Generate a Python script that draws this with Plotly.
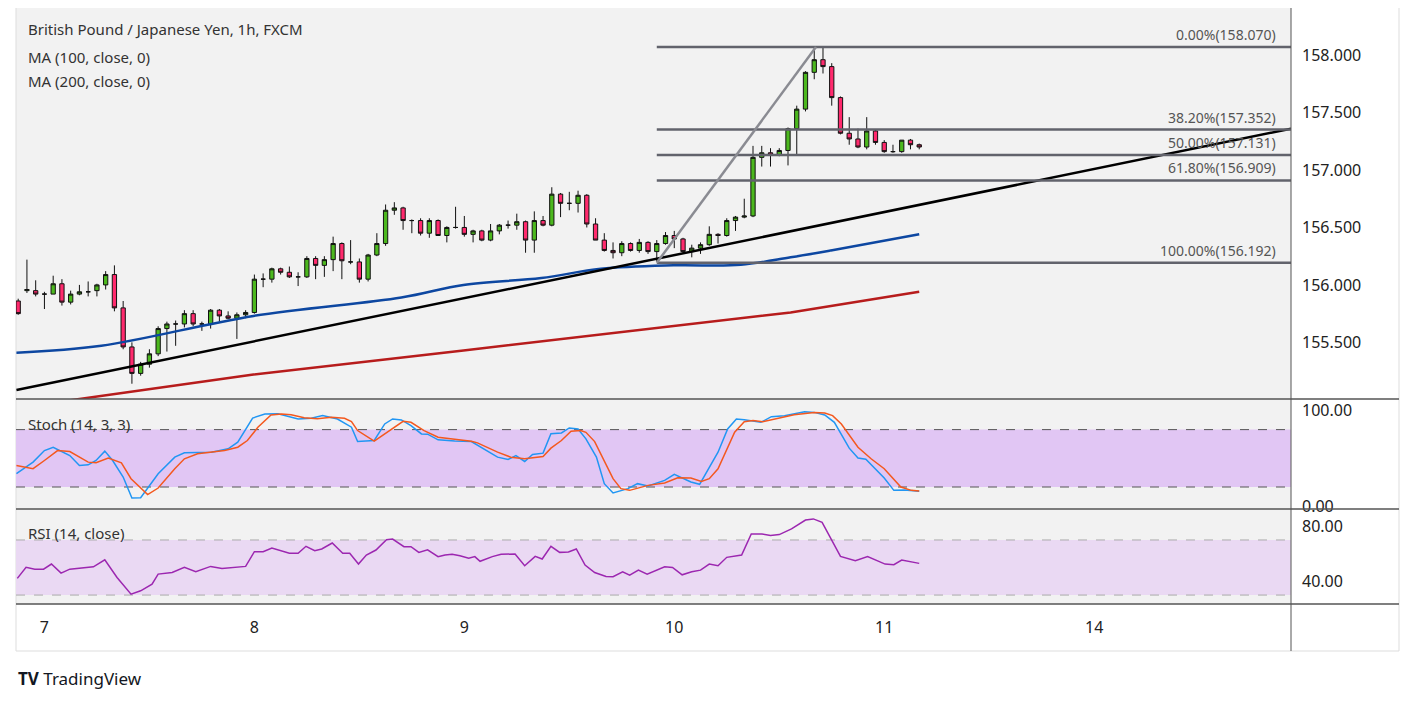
import plotly.graph_objects as GO

# GBP/JPY 1h candles (hour index 0 = first visible bar, day 7 00:00 at index 3)
opens = [155.86, 155.95, 155.95, 155.92, 155.92, 156.01, 155.85, 155.92, 155.94, 155.95,
         156.00, 156.09, 155.80, 155.46, 155.23, 155.31, 155.40, 155.62, 155.66, 155.66,
         155.75, 155.66, 155.66, 155.78, 155.73, 155.71, 155.74, 155.76, 156.05, 156.05,
         156.14, 156.11, 156.07, 156.07, 156.23, 156.17, 156.22,
         156.36, 156.20, 156.20, 156.05, 156.26, 156.36, 156.65, 156.67, 156.56, 156.56,
         156.45, 156.56, 156.43, 156.50, 156.50, 156.44, 156.47, 156.39, 156.47, 156.52,
         156.52, 156.55, 156.39, 156.56, 156.52, 156.79, 156.71, 156.71, 156.78, 156.53,
         156.39, 156.30, 156.28, 156.36,
         156.30, 156.37, 156.29, 156.36, 156.43, 156.40, 156.29, 156.32, 156.35, 156.44,
         156.43, 156.56, 156.59, 156.60, 157.11, 157.15, 157.13, 157.17, 157.36, 157.53,
         157.85, 157.96, 157.90, 157.63, 157.32, 157.27, 157.20, 157.34, 157.24, 157.16,
         157.16, 157.26, 157.22]
highs = [155.88, 156.22, 156.04, 155.94, 156.08, 156.05, 155.95, 156.00, 156.03, 156.01,
         156.12, 156.17, 155.86, 155.50, 155.33, 155.44, 155.64, 155.68, 155.69, 155.78,
         155.78, 155.68, 155.79, 155.79, 155.77, 155.76, 155.78, 156.09, 156.10, 156.15,
         156.15, 156.16, 156.11, 156.25, 156.25, 156.25, 156.42,
         156.37, 156.39, 156.23, 156.27, 156.45, 156.70, 156.72, 156.68, 156.57, 156.58,
         156.58, 156.57, 156.51, 156.68, 156.60, 156.48, 156.48, 156.53, 156.53, 156.56,
         156.62, 156.56, 156.64, 156.60, 156.85, 156.80, 156.81, 156.82, 156.79, 156.58,
         156.45, 156.37, 156.38, 156.37,
         156.40, 156.38, 156.39, 156.46, 156.47, 156.41, 156.35, 156.37, 156.51, 156.45,
         156.58, 156.60, 156.75, 157.21, 157.21, 157.19, 157.19, 157.37, 157.56, 157.86,
         158.07, 158.07, 157.93, 157.64, 157.46, 157.36, 157.46, 157.35, 157.26, 157.22,
         157.26, 157.27, 157.23]
lows = [155.74, 155.93, 155.90, 155.79, 155.92, 155.82, 155.83, 155.91, 155.90, 155.90,
        155.96, 155.77, 155.44, 155.14, 155.21, 155.28, 155.38, 155.42, 155.47, 155.63,
        155.64, 155.60, 155.62, 155.68, 155.70, 155.53, 155.71, 155.75, 155.98, 156.02,
        156.09, 156.06, 155.99, 156.06, 156.05, 156.07, 156.12,
        156.05, 156.18, 156.02, 156.03, 156.25, 156.34, 156.61, 156.48, 156.45, 156.43,
        156.41, 156.43, 156.37, 156.49, 156.42, 156.37, 156.38, 156.38, 156.44, 156.49,
        156.48, 156.28, 156.28, 156.51, 156.51, 156.59, 156.65, 156.63, 156.50, 156.39,
        156.29, 156.23, 156.25, 156.29,
        156.28, 156.27, 156.20, 156.35, 156.32, 156.28, 156.24, 156.27, 156.34, 156.36,
        156.42, 156.47, 156.58, 156.59, 157.03, 157.03, 157.12, 157.04, 157.13, 157.51,
        157.79, 157.84, 157.56, 157.31, 157.22, 157.19, 157.18, 157.22, 157.15, 157.15,
        157.15, 157.18, 157.18]
closes = [155.75, 155.96, 155.92, 155.92, 156.01, 155.85, 155.92, 155.94, 155.94, 156.00,
          156.09, 155.80, 155.46, 155.23, 155.31, 155.40, 155.62, 155.66, 155.66, 155.75,
          155.66, 155.66, 155.78, 155.73, 155.71, 155.74, 155.76, 156.05, 156.05, 156.14,
          156.11, 156.07, 156.07, 156.23, 156.17, 156.22, 156.36,
          156.21, 156.20, 156.05, 156.26, 156.36, 156.65, 156.67, 156.56, 156.56, 156.45,
          156.56, 156.43, 156.50, 156.50, 156.44, 156.47, 156.39, 156.47, 156.52, 156.52,
          156.55, 156.39, 156.56, 156.52, 156.79, 156.71, 156.71, 156.78, 156.53, 156.39,
          156.30, 156.28, 156.36, 156.30,
          156.37, 156.29, 156.36, 156.43, 156.40, 156.29, 156.32, 156.35, 156.44, 156.43,
          156.56, 156.59, 156.60, 157.11, 157.15, 157.13, 157.17, 157.36, 157.53, 157.85,
          157.96, 157.90, 157.63, 157.32, 157.27, 157.20, 157.34, 157.24, 157.16, 157.16,
          157.26, 157.22, 157.20]

ma100_idx = [-0.2, 9.5, 26.9, 43.8, 50.9, 59.8, 66.6, 74.9, 82.6, 88.3, 92.9, 103]
ma100_val = [155.41, 155.47, 155.73, 155.89, 156.00, 156.06, 156.14, 156.17, 156.175, 156.24, 156.30, 156.44]
ma200_idx = [-0.2, 26.9, 50.9, 74.9, 88.3, 103]
ma200_val = [154.93, 155.22, 155.43, 155.64, 155.76, 155.94]

trend_idx = [-0.2, 145.5]
trend_val = [155.085, 157.36]

fib_start, fib_end = 73, 91.2
fib_levels = [158.070, 157.352, 157.131, 156.909, 156.192]
fib_pcts = ["0.00%", "38.20%", "50.00%", "61.80%", "100.00%"]

k_idx = [-0.2, 1.7, 3.0, 4.0, 5.9, 7.0, 8.0, 8.9, 9.9, 10.8, 12.0, 13.0, 14.0, 16.0, 17.9, 19.0,
         22.1, 24.0, 25.1, 26.8, 28.2, 29.7, 32.0, 33.5, 34.8, 36.5, 38.1, 38.8, 40.7, 41.9, 42.8,
         43.8, 44.9, 46.1, 46.8, 48.0, 49.9, 51.8, 54.8, 56.0, 56.9, 57.9, 58.8, 60.0, 60.9, 62.1,
         63.0, 64.0, 64.9, 66.1, 67.0, 68.0, 69.7, 70.8, 72.0, 73.9, 75.0, 76.9, 77.9, 80.0, 81.1,
         82.1, 83.0, 84.9, 86.1, 87.6, 89.9, 91.0, 92.2, 93.3, 95.0, 96.0, 96.9, 99.0, 100.1, 101.3, 103.0]
k_val = [33.9, 46.0, 58.1, 61.6, 52.9, 42.5, 43.2, 47.7, 57.5, 47.7, 30.4, 8.5, 8.8, 33.9, 51.2, 55.7,
         56.4, 59.9, 66.8, 92.1, 96.3, 96.6, 91.1, 91.8, 94.6, 91.1, 82.5, 67.6, 68.6, 85.9, 91.1,
         90.1, 84.2, 75.5, 75.2, 69.3, 68.2, 67.5, 51.2, 48.8, 52.9, 46.7, 54.0, 55.4, 75.8, 76.5,
         81.7, 80.7, 70.3, 51.2, 23.5, 13.8, 18.3, 23.5, 21.0, 26.9, 33.2, 25.2, 22.8, 56.4, 80.7,
         91.1, 90.4, 87.6, 93.5, 94.6, 98.7, 98.0, 95.3, 87.6, 60.6, 50.2, 49.1, 29.4, 16.5, 16.9, 15.5]
d_idx = [-0.2, 1.7, 3.0, 4.5, 5.9, 8.0, 8.9, 10.3, 11.8, 12.9, 14.8, 16.0, 17.9, 19.0, 20.5, 23.6,
         25.1, 26.2, 27.4, 28.9, 30.1, 31.2, 32.7, 34.2, 35.8, 37.3, 38.1, 38.8, 40.7, 42.2, 44.0,
         44.9, 46.4, 48.0, 49.9, 51.8, 52.5, 54.8, 56.3, 57.9, 60.0, 60.9, 62.1, 63.2, 64.3, 64.9,
         65.9, 68.0, 68.9, 69.9, 72.0, 73.9, 75.4, 76.9, 78.1, 79.0, 80.0, 81.9, 83.0, 84.0, 85.1,
         87.2, 88.7, 91.0, 92.2, 93.1, 94.1, 96.0, 97.5, 99.0, 100.9, 102.1, 103.0]
d_val = [42.5, 39.1, 47.7, 58.1, 57.1, 46.0, 45.3, 50.2, 45.3, 28.7, 12.0, 18.9, 39.1, 49.5, 54.7, 58.1,
         61.6, 68.6, 82.4, 95.3, 96.3, 95.6, 92.5, 91.4, 92.8, 91.8, 88.3, 79.0, 67.9, 77.2, 88.7,
         87.6, 79.0, 72.0, 69.6, 67.9, 66.1, 56.4, 51.2, 49.5, 51.9, 60.6, 68.6, 78.3, 79.0, 77.2,
         67.5, 28.7, 18.3, 16.5, 21.7, 24.2, 29.7, 29.4, 25.9, 28.7, 39.1, 77.2, 88.3, 89.4, 88.3,
         92.5, 95.6, 98.0, 97.3, 94.6, 85.9, 61.6, 49.5, 39.1, 20.0, 16.5, 15.8]

rsi_idx = [-0.1, 0.9, 1.9, 2.9, 3.8, 4.9, 5.9, 7.6, 8.6, 9.9, 11.3, 12.9, 14.0, 15.3, 16.0, 17.6,
           19.0, 20.3, 22.0, 23.3, 26.0, 27.0, 28.0, 29.0, 31.0, 32.0, 32.9, 33.9, 34.7, 35.9, 37.1,
           37.9, 38.9, 39.8, 40.9, 42.1, 42.8, 44.1, 44.9, 45.8, 46.8, 48.0, 48.8, 49.6, 50.5, 51.5,
           52.2, 52.8, 54.2, 55.2, 56.8, 57.9, 59.1, 59.9, 60.9, 61.9, 62.9, 63.8, 64.8, 65.9, 67.2,
           68.0, 69.1, 69.9, 70.9, 71.9, 73.9, 74.8, 75.9, 77.0, 78.0, 79.0, 80.0, 81.0, 82.7, 83.8,
           85.0, 86.0, 87.0, 88.4, 90.0, 90.9, 91.9, 94.0, 95.7, 97.1, 99.1, 100.1, 101.0, 103.0]
rsi_val = [42.1, 50.1, 48.8, 48.8, 52.5, 45.9, 48.8, 50.1, 50.5, 55.6, 42.8, 30.6, 33.1, 37.9, 45.2, 46.4,
           50.1, 46.9, 50.8, 49.3, 50.8, 61.5, 61.5, 64.2, 60.3, 60.3, 65.4, 62.2, 63.5, 67.8, 60.3,
           60.3, 52.5, 59.1, 62.7, 70.2, 70.7, 65.1, 65.1, 61.0, 62.9, 57.9, 59.1, 59.6, 58.6, 56.7,
           57.9, 54.5, 57.9, 59.6, 59.8, 51.3, 58.1, 56.2, 65.4, 61.0, 61.3, 63.5, 51.8, 46.4, 43.5,
           43.3, 46.9, 44.5, 48.1, 45.2, 50.5, 50.1, 44.7, 46.9, 48.1, 52.5, 51.3, 57.4, 59.1, 74.4,
           74.4, 73.2, 73.9, 78.0, 84.5, 85.3, 82.8, 58.1, 54.9, 57.9, 52.5, 52.0, 55.4, 53.0]

day_ticks = [3, 27, 51, 75, 99, 123]
day_labels = ["7", "8", "9", "10", "11", "14"]

FONT = "Noto Sans"
TXT = "#333333"
X0, X1 = -0.25, 145.5


# reference pixel -> paper coords (plot area spans x 15..1290, y 7..603)
def px(x):
  return (x - 15) / 1275


def py(y):
  return (603 - y) / 596


def main():
  fig = GO.Figure()
  idx = list(range(len(closes)))

  fig.add_trace(GO.Candlestick(
      x=idx, open=opens, high=highs, low=lows, close=closes,
      increasing=dict(fillcolor="#4cb81e", line=dict(color="#111111", width=1)),
      decreasing=dict(fillcolor="#ff2a6d", line=dict(color="#111111", width=1)),
      whiskerwidth=0, yaxis="y", hoverinfo="skip"))

  fig.add_trace(GO.Scatter(x=ma200_idx, y=ma200_val, mode="lines",
                           line=dict(color="#b71c1c", width=2.5), yaxis="y"))
  fig.add_trace(GO.Scatter(x=ma100_idx, y=ma100_val, mode="lines",
                           line=dict(color="#0d47a1", width=2.5, shape="spline"), yaxis="y"))
  fig.add_trace(GO.Scatter(x=trend_idx, y=trend_val, mode="lines",
                           line=dict(color="#000000", width=2.5), yaxis="y"))

  # fibonacci retracement
  for lvl in fib_levels:
    fig.add_trace(GO.Scatter(x=[fib_start, X1], y=[lvl, lvl], mode="lines",
                             line=dict(color="#62636c", width=2.5), yaxis="y"))
  fig.add_trace(GO.Scatter(x=[fib_start, fib_end], y=[fib_levels[-1], fib_levels[0]], mode="lines",
                           line=dict(color="#8a8b92", width=2.5), yaxis="y"))

  # stochastic band + lines
  fig.add_trace(GO.Scatter(x=[X0, X1, X1, X0, X0], y=[20, 20, 80, 80, 20], fill="toself",
                           fillcolor="#e1c6f4", mode="lines", line=dict(width=0), yaxis="y2"))
  for lvl in [20, 80]:
    fig.add_trace(GO.Scatter(x=[X0, X1], y=[lvl, lvl], mode="lines",
                             line=dict(color="#555555", width=1, dash="dash"), yaxis="y2"))
  fig.add_trace(GO.Scatter(x=k_idx, y=k_val, mode="lines",
                           line=dict(color="#2196f3", width=1.5), yaxis="y2"))
  fig.add_trace(GO.Scatter(x=d_idx, y=d_val, mode="lines",
                           line=dict(color="#f4581e", width=1.5), yaxis="y2"))

  # RSI band + line
  fig.add_trace(GO.Scatter(x=[X0, X1, X1, X0, X0], y=[30, 30, 70, 70, 30], fill="toself",
                           fillcolor="#ead9f3", mode="lines", line=dict(width=0), yaxis="y3"))
  for lvl in [30, 70]:
    fig.add_trace(GO.Scatter(x=[X0, X1], y=[lvl, lvl], mode="lines",
                             line=dict(color="#aaaaaa", width=1, dash="dash"), yaxis="y3"))
  fig.add_trace(GO.Scatter(x=rsi_idx, y=rsi_val, mode="lines",
                           line=dict(color="#9c27b0", width=1.5), yaxis="y3"))

  ann = []
  for lvl, pct in zip(fib_levels, fib_pcts):
    ann.append(dict(x=144, y=lvl, xref="x", yref="y", text=f"{pct}({lvl:.3f})",
                    showarrow=False, xanchor="right", yanchor="bottom", yshift=1,
                    font=dict(family=FONT, size=14, color="#555555")))
  heads = [("British Pound / Japanese Yen, 1h, FXCM", 28), ("MA (100, close, 0)", 56),
           ("MA (200, close, 0)", 80), ("Stoch (14, 3, 3)", 423), ("RSI (14, close)", 532)]
  for t, y in heads:
    ann.append(dict(x=px(25), y=py(y), xref="paper", yref="paper", text=t,
                    showarrow=False, xanchor="left", yanchor="middle",
                    font=dict(family=FONT, size=15, color=TXT)))
  ann.append(dict(x=px(15), y=py(678), xref="paper", yref="paper",
                  text="<b>TV</b> TradingView", showarrow=False, xanchor="left", yanchor="middle",
                  font=dict(family=FONT, size=17, color="#131722")))

  shapes = []
  for y in [398, 508, 603]:
    shapes.append(dict(type="line", xref="paper", yref="paper", x0=px(15), x1=px(1398),
                       y0=py(y), y1=py(y), line=dict(color="#555555", width=1.5)))
  shapes.append(dict(type="line", xref="paper", yref="paper", x0=1, x1=1, y0=py(650), y1=py(5),
                     line=dict(color="#555555", width=1)))
  shapes.append(dict(type="rect", xref="paper", yref="paper", x0=px(15), x1=px(1398),
                     y0=py(650), y1=py(5), line=dict(color="#dddddd", width=1), layer="below"))

  tick_font = dict(family=FONT, size=16, color="#222222")
  fig.update_layout(
      width=1406, height=697, showlegend=False,
      paper_bgcolor="#ffffff", plot_bgcolor="#f2f2f2",
      margin=dict(l=8, r=123, t=0, b=101),
      xaxis=dict(range=[X0, X1], tickvals=day_ticks, ticktext=day_labels, showgrid=False,
                 zeroline=False, rangeslider=dict(visible=False), ticks="", tickfont=tick_font,
                 ticklabelstandoff=12, anchor="y3"),
      yaxis=dict(domain=[py(398), 1], range=[155.007, 158.41], side="right", showgrid=False,
                 zeroline=False, tickvals=[155.5, 156, 156.5, 157, 157.5, 158], tickformat=".3f",
                 tickfont=tick_font, ticklabelstandoff=10, anchor="x"),
      yaxis2=dict(domain=[py(508), py(398)], range=[-3, 112], side="right", showgrid=False,
                  zeroline=False, tickvals=[0, 100], tickformat=".2f", tickfont=tick_font,
                  ticklabelstandoff=10, anchor="x"),
      yaxis3=dict(domain=[0, py(508)], range=[23.5, 92.5], side="right", showgrid=False,
                  zeroline=False, tickvals=[40, 80], tickformat=".2f", tickfont=tick_font,
                  ticklabelstandoff=10, anchor="x"),
      annotations=ann, shapes=shapes)

  fig.write_html("out.html")


if __name__ == "__main__":
  main()
